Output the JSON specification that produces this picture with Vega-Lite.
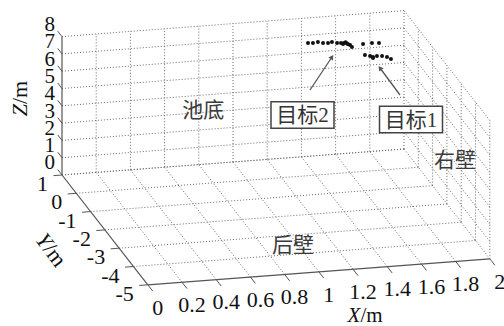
{
  "$schema": "https://vega.github.io/schema/vega-lite/v6.json",
  "width": 504,
  "height": 326,
  "padding": 0,
  "autosize": {"type": "none"},
  "background": "white",
  "config": {"view": {"stroke": null}},
  "datasets": {
    "grid": [
      {"x1":0.2,"y1":1,"z1":0,"x2":0.2,"y2":1,"z2":8},
      {"x1":0.4,"y1":1,"z1":0,"x2":0.4,"y2":1,"z2":8},
      {"x1":0.6,"y1":1,"z1":0,"x2":0.6,"y2":1,"z2":8},
      {"x1":0.8,"y1":1,"z1":0,"x2":0.8,"y2":1,"z2":8},
      {"x1":1,"y1":1,"z1":0,"x2":1,"y2":1,"z2":8},
      {"x1":1.2,"y1":1,"z1":0,"x2":1.2,"y2":1,"z2":8},
      {"x1":1.4,"y1":1,"z1":0,"x2":1.4,"y2":1,"z2":8},
      {"x1":1.6,"y1":1,"z1":0,"x2":1.6,"y2":1,"z2":8},
      {"x1":1.8,"y1":1,"z1":0,"x2":1.8,"y2":1,"z2":8},
      {"x1":2,"y1":1,"z1":0,"x2":2,"y2":1,"z2":8},
      {"x1":0,"y1":1,"z1":0,"x2":2,"y2":1,"z2":0},
      {"x1":0,"y1":1,"z1":1,"x2":2,"y2":1,"z2":1},
      {"x1":0,"y1":1,"z1":2,"x2":2,"y2":1,"z2":2},
      {"x1":0,"y1":1,"z1":3,"x2":2,"y2":1,"z2":3},
      {"x1":0,"y1":1,"z1":4,"x2":2,"y2":1,"z2":4},
      {"x1":0,"y1":1,"z1":5,"x2":2,"y2":1,"z2":5},
      {"x1":0,"y1":1,"z1":6,"x2":2,"y2":1,"z2":6},
      {"x1":0,"y1":1,"z1":7,"x2":2,"y2":1,"z2":7},
      {"x1":0,"y1":1,"z1":8,"x2":2,"y2":1,"z2":8},
      {"x1":0.2,"y1":-5,"z1":0,"x2":0.2,"y2":1,"z2":0},
      {"x1":0.4,"y1":-5,"z1":0,"x2":0.4,"y2":1,"z2":0},
      {"x1":0.6,"y1":-5,"z1":0,"x2":0.6,"y2":1,"z2":0},
      {"x1":0.8,"y1":-5,"z1":0,"x2":0.8,"y2":1,"z2":0},
      {"x1":1,"y1":-5,"z1":0,"x2":1,"y2":1,"z2":0},
      {"x1":1.2,"y1":-5,"z1":0,"x2":1.2,"y2":1,"z2":0},
      {"x1":1.4,"y1":-5,"z1":0,"x2":1.4,"y2":1,"z2":0},
      {"x1":1.6,"y1":-5,"z1":0,"x2":1.6,"y2":1,"z2":0},
      {"x1":1.8,"y1":-5,"z1":0,"x2":1.8,"y2":1,"z2":0},
      {"x1":2,"y1":-5,"z1":0,"x2":2,"y2":1,"z2":0},
      {"x1":0,"y1":-4,"z1":0,"x2":2,"y2":-4,"z2":0},
      {"x1":0,"y1":-3,"z1":0,"x2":2,"y2":-3,"z2":0},
      {"x1":0,"y1":-2,"z1":0,"x2":2,"y2":-2,"z2":0},
      {"x1":0,"y1":-1,"z1":0,"x2":2,"y2":-1,"z2":0},
      {"x1":0,"y1":0,"z1":0,"x2":2,"y2":0,"z2":0},
      {"x1":0,"y1":1,"z1":0,"x2":2,"y2":1,"z2":0},
      {"x1":2,"y1":-5,"z1":0,"x2":2,"y2":-5,"z2":8},
      {"x1":2,"y1":-4,"z1":0,"x2":2,"y2":-4,"z2":8},
      {"x1":2,"y1":-3,"z1":0,"x2":2,"y2":-3,"z2":8},
      {"x1":2,"y1":-2,"z1":0,"x2":2,"y2":-2,"z2":8},
      {"x1":2,"y1":-1,"z1":0,"x2":2,"y2":-1,"z2":8},
      {"x1":2,"y1":0,"z1":0,"x2":2,"y2":0,"z2":8},
      {"x1":2,"y1":-5,"z1":1,"x2":2,"y2":1,"z2":1},
      {"x1":2,"y1":-5,"z1":2,"x2":2,"y2":1,"z2":2},
      {"x1":2,"y1":-5,"z1":3,"x2":2,"y2":1,"z2":3},
      {"x1":2,"y1":-5,"z1":4,"x2":2,"y2":1,"z2":4},
      {"x1":2,"y1":-5,"z1":5,"x2":2,"y2":1,"z2":5},
      {"x1":2,"y1":-5,"z1":6,"x2":2,"y2":1,"z2":6},
      {"x1":2,"y1":-5,"z1":7,"x2":2,"y2":1,"z2":7},
      {"x1":2,"y1":-5,"z1":8,"x2":2,"y2":1,"z2":8}
    ],
    "axes": [
      {"x1":0,"y1":1,"z1":0,"x2":0,"y2":1,"z2":8},
      {"x1":0,"y1":1,"z1":0,"x2":0,"y2":-5,"z2":0},
      {"x1":0,"y1":-5,"z1":0,"x2":2,"y2":-5,"z2":0}
    ],
    "arrows": [
      {"x1":1.3667,"y1":0,"z1":4.944,"x2":1.4953,"y2":0,"z2":6.755},
      {"x1":1.893,"y1":0,"z1":4.26,"x2":1.776,"y2":0,"z2":5.908}
    ],
    "zt": [{"v":0},{"v":1},{"v":2},{"v":3},{"v":4},{"v":5},{"v":6},{"v":7},{"v":8}],
    "yt": [{"v":-5},{"v":-4},{"v":-3},{"v":-2},{"v":-1},{"v":0},{"v":1}],
    "xt": [{"v":0},{"v":0.2},{"v":0.4},{"v":0.6},{"v":0.8},{"v":1},{"v":1.2},{"v":1.4},{"v":1.6},{"v":1.8},{"v":2}],
    "targets": [
      {"x":1.355,"y":0,"z":7.67},{"x":1.384,"y":0,"z":7.65},{"x":1.413,"y":0,"z":7.68},
      {"x":1.443,"y":0,"z":7.6},{"x":1.472,"y":0,"z":7.58},{"x":1.495,"y":0,"z":7.62},
      {"x":1.525,"y":0,"z":7.54},{"x":1.548,"y":0,"z":7.52},{"x":1.566,"y":0,"z":7.51},
      {"x":1.583,"y":0,"z":7.47},{"x":1.601,"y":0,"z":7.37},{"x":1.612,"y":0,"z":7.24},
      {"x":1.56,"y":0,"z":7.46},{"x":1.59,"y":0,"z":7.42},{"x":1.575,"y":0,"z":7.55},
      {"x":1.677,"y":0,"z":7.37},{"x":1.729,"y":0,"z":7.39},{"x":1.77,"y":0,"z":7.36},
      {"x":1.688,"y":0,"z":6.73},{"x":1.718,"y":0,"z":6.65},{"x":1.735,"y":0,"z":6.51},
      {"x":1.758,"y":0,"z":6.61},{"x":1.788,"y":0,"z":6.59},{"x":1.817,"y":0,"z":6.51},
      {"x":1.84,"y":0,"z":6.38},{"x":1.735,"y":0,"z":6.58}
    ],
    "notes": [
      {"t":"池底","x":0.8257,"y":1,"z":3.06},
      {"t":"右壁","x":2,"y":-2.57,"z":3.08},
      {"t":"后壁","x":0.969,"y":-3.567,"z":0}
    ],
    "boxes": [
      {"t":"目标2","x":1.3228,"y":0,"z":3.532},
      {"t":"目标1","x":1.9573,"y":0,"z":2.795}
    ],
    "titles": [
      {"a":"Z","x":0,"y":3.94,"z":1.31},
      {"a":"Y","x":-0.384,"y":-2.825,"z":0},
      {"a":"X","x":1.066,"y":-7.45,"z":0}
    ]
  },
  "encoding": {
    "x": {"field":"u","type":"quantitative","scale":{"domain":[-76.3,427.7],"nice":false,"zero":false},"axis":null},
    "y": {"field":"w","type":"quantitative","scale":{"domain":[-132.7,193.3],"nice":false,"zero":false},"axis":null}
  },
  "layer": [
    {
      "data": {"name":"grid"},
      "transform": [
        {"calculate":"171*datum.x1-14.3*datum.y1","as":"u"},
        {"calculate":"13*datum.x1+18.3*datum.y1+17.3*datum.z1","as":"w"},
        {"calculate":"171*datum.x2-14.3*datum.y2","as":"u2"},
        {"calculate":"13*datum.x2+18.3*datum.y2+17.3*datum.z2","as":"w2"}
      ],
      "mark": {"type":"rule","color":"#6a6a6a","strokeWidth":1,"strokeDash":[1,2]},
      "encoding": {"x2":{"field":"u2"},"y2":{"field":"w2"}}
    },
    {
      "data": {"name":"axes"},
      "transform": [
        {"calculate":"171*datum.x1-14.3*datum.y1","as":"u"},
        {"calculate":"13*datum.x1+18.3*datum.y1+17.3*datum.z1","as":"w"},
        {"calculate":"171*datum.x2-14.3*datum.y2","as":"u2"},
        {"calculate":"13*datum.x2+18.3*datum.y2+17.3*datum.z2","as":"w2"}
      ],
      "mark": {"type":"rule","color":"#555555","strokeWidth":1.2},
      "encoding": {"x2":{"field":"u2"},"y2":{"field":"w2"}}
    },
    {
      "data": {"name":"zt"},
      "transform": [
        {"calculate":"171*0-14.3*1","as":"u"},
        {"calculate":"18.3*1+17.3*datum.v","as":"w"},
        {"calculate":"171*0-14.3*1.3","as":"u2"},
        {"calculate":"18.3*1.3+17.3*datum.v","as":"w2"}
      ],
      "mark": {"type":"rule","color":"#555555","strokeWidth":1},
      "encoding": {"x2":{"field":"u2"},"y2":{"field":"w2"}}
    },
    {
      "data": {"name":"yt"},
      "transform": [
        {"calculate":"-14.3*datum.v","as":"u"},
        {"calculate":"18.3*datum.v","as":"w"},
        {"calculate":"171*(-0.05)-14.3*datum.v","as":"u2"},
        {"calculate":"13*(-0.05)+18.3*datum.v","as":"w2"}
      ],
      "mark": {"type":"rule","color":"#555555","strokeWidth":1},
      "encoding": {"x2":{"field":"u2"},"y2":{"field":"w2"}}
    },
    {
      "data": {"name":"xt"},
      "transform": [
        {"calculate":"171*datum.v-14.3*(-5)","as":"u"},
        {"calculate":"13*datum.v+18.3*(-5)","as":"w"},
        {"calculate":"171*datum.v-14.3*(-5.35)","as":"u2"},
        {"calculate":"13*datum.v+18.3*(-5.35)","as":"w2"}
      ],
      "mark": {"type":"rule","color":"#555555","strokeWidth":1},
      "encoding": {"x2":{"field":"u2"},"y2":{"field":"w2"}}
    },
    {
      "data": {"name":"zt"},
      "transform": [
        {"calculate":"-14.3*1.85","as":"u"},
        {"calculate":"18.3*1.85+17.3*datum.v","as":"w"}
      ],
      "mark": {"type":"text","font":"Liberation Serif, serif","fontSize":21,"color":"#111111","align":"center","baseline":"middle","dy":4},
      "encoding": {"text":{"field":"v","type":"nominal"}}
    },
    {
      "data": {"name":"yt"},
      "transform": [
        {"calculate":"171*(-0.082)-14.3*datum.v","as":"u"},
        {"calculate":"13*(-0.082)+18.3*datum.v","as":"w"}
      ],
      "mark": {"type":"text","font":"Liberation Serif, serif","fontSize":22,"color":"#111111","align":"right","baseline":"middle","dy":8},
      "encoding": {"text":{"field":"v","type":"nominal"}}
    },
    {
      "data": {"name":"xt"},
      "transform": [
        {"calculate":"171*datum.v-14.3*(-5.7)","as":"u"},
        {"calculate":"13*datum.v+18.3*(-5.7)","as":"w"}
      ],
      "mark": {"type":"text","font":"Liberation Serif, serif","fontSize":22,"color":"#111111","align":"center","baseline":"middle","dy":10},
      "encoding": {"text":{"field":"v","type":"nominal"}}
    },
    {
      "data": {"name":"titles"},
      "transform": [
        {"filter":"datum.a=='Z'"},
        {"calculate":"171*datum.x-14.3*datum.y","as":"u"},
        {"calculate":"13*datum.x+18.3*datum.y+17.3*datum.z","as":"w"}
      ],
      "layer": [
        {"mark":{"type":"text","font":"Liberation Serif, serif","fontSize":22,"fontStyle":"italic","color":"#111111","align":"right","baseline":"middle","angle":270,"dx":-5.5},
         "encoding":{"text":{"field":"a","type":"nominal"}}},
        {"mark":{"type":"text","font":"Liberation Serif, serif","fontSize":22,"color":"#111111","align":"left","baseline":"middle","angle":270,"dx":-5.5,"text":"/m"}}
      ]
    },
    {
      "data": {"name":"titles"},
      "transform": [
        {"filter":"datum.a=='Y'"},
        {"calculate":"171*datum.x-14.3*datum.y","as":"u"},
        {"calculate":"13*datum.x+18.3*datum.y+17.3*datum.z","as":"w"}
      ],
      "layer": [
        {"mark":{"type":"text","font":"Liberation Serif, serif","fontSize":22,"fontStyle":"italic","color":"#111111","align":"right","baseline":"middle","angle":53,"dx":-5.5},
         "encoding":{"text":{"field":"a","type":"nominal"}}},
        {"mark":{"type":"text","font":"Liberation Serif, serif","fontSize":22,"color":"#111111","align":"left","baseline":"middle","angle":53,"dx":-5.5,"text":"/m"}}
      ]
    },
    {
      "data": {"name":"titles"},
      "transform": [
        {"filter":"datum.a=='X'"},
        {"calculate":"171*datum.x-14.3*datum.y","as":"u"},
        {"calculate":"13*datum.x+18.3*datum.y+17.3*datum.z","as":"w"}
      ],
      "layer": [
        {"mark":{"type":"text","font":"Liberation Serif, serif","fontSize":21,"fontStyle":"italic","color":"#111111","align":"right","baseline":"middle","dx":-4.7},
         "encoding":{"text":{"field":"a","type":"nominal"}}},
        {"mark":{"type":"text","font":"Liberation Serif, serif","fontSize":21,"color":"#111111","align":"left","baseline":"middle","dx":-4.7,"text":"/m"}}
      ]
    },
    {
      "data": {"name":"targets"},
      "transform": [
        {"calculate":"171*datum.x-14.3*datum.y","as":"u"},
        {"calculate":"13*datum.x+18.3*datum.y+17.3*datum.z","as":"w"}
      ],
      "mark": {"type":"circle","color":"#111111","size":16,"opacity":1}
    },
    {
      "data": {"name":"arrows"},
      "transform": [
        {"calculate":"171*datum.x1-14.3*datum.y1","as":"u"},
        {"calculate":"13*datum.x1+18.3*datum.y1+17.3*datum.z1","as":"w"},
        {"calculate":"171*datum.x2-14.3*datum.y2","as":"u2"},
        {"calculate":"13*datum.x2+18.3*datum.y2+17.3*datum.z2","as":"w2"}
      ],
      "mark": {"type":"rule","color":"#555555","strokeWidth":1.3},
      "encoding": {"x2":{"field":"u2"},"y2":{"field":"w2"}}
    },
    {
      "data": {"name":"arrows"},
      "transform": [
        {"calculate":"171*datum.x2-14.3*datum.y2","as":"u"},
        {"calculate":"13*datum.x2+18.3*datum.y2+17.3*datum.z2","as":"w"},
        {"calculate":"atan2(171*(datum.x2-datum.x1)-14.3*(datum.y2-datum.y1), 13*(datum.x2-datum.x1)+18.3*(datum.y2-datum.y1)+17.3*(datum.z2-datum.z1))*180/PI","as":"ang"}
      ],
      "mark": {"type":"point","shape":"triangle-up","filled":true,"color":"#555555","size":30,"opacity":1},
      "encoding": {"angle":{"field":"ang","type":"quantitative","scale":null}}
    },
    {
      "data": {"name":"boxes"},
      "transform": [
        {"calculate":"171*datum.x-14.3*datum.y","as":"u"},
        {"calculate":"13*datum.x+18.3*datum.y+17.3*datum.z","as":"w"}
      ],
      "layer": [
        {"mark":{"type":"point","shape":"M-1,-0.42H1V0.42H-1Z","size":3969,"filled":false,"fill":"white","fillOpacity":1,"stroke":"#444444","strokeWidth":1.5,"opacity":1}},
        {"mark":{"type":"text","font":"Liberation Serif, Noto Sans CJK SC","fontSize":21,"color":"#333333","align":"center","baseline":"middle","dy":1},
         "encoding":{"text":{"field":"t","type":"nominal"}}}
      ]
    },
    {
      "data": {"name":"notes"},
      "transform": [
        {"calculate":"171*datum.x-14.3*datum.y","as":"u"},
        {"calculate":"13*datum.x+18.3*datum.y+17.3*datum.z","as":"w"}
      ],
      "mark": {"type":"text","font":"Noto Sans CJK SC","fontSize":21,"color":"#3a3a3a","align":"center","baseline":"middle"},
      "encoding": {"text":{"field":"t","type":"nominal"}}
    }
  ]
}
